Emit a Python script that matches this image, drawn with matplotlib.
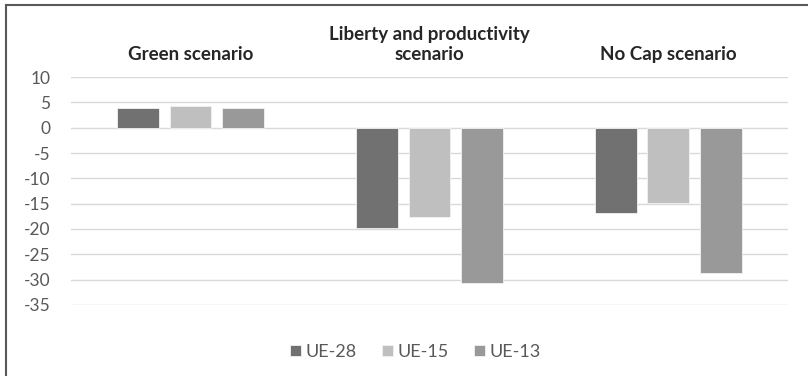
import numpy as np
import matplotlib.pyplot as plt
from matplotlib.lines import Line2D

# Dados por cenário
cenarios = ['Green scenario', 'Liberty and productivity\nscenario', 'No Cap scenario']
ue28 = [3.9, -19.8, -16.8]
ue15 = [4.2, -17.6, -14.8]
ue13 = [3.9, -30.6, -28.7]
series = ['UE-28', 'UE-15', 'UE-13']
cores = ['#717171', '#bfbfbf', '#999999']

plt.rcParams['font.family'] = ['Lato', 'DejaVu Sans']
plt.rcParams['axes.unicode_minus'] = False

fig = plt.figure(figsize=(8.08, 3.76), dpi=100)
ax = fig.add_axes([0.088, 0.189, 0.887, 0.606])

x = np.arange(len(cenarios))
largura = 0.175
desloc = 0.22
for i, (valores, nome, cor) in enumerate(zip([ue28, ue15, ue13], series, cores)):
    ax.bar(x + (i - 1) * desloc, valores, largura, color=cor, label=nome,
           edgecolor='#f2f2f2', linewidth=0.6, zorder=3)

ax.set_xlim(-0.5, 2.5)
ax.set_ylim(-35, 10)
ax.set_yticks(range(-35, 11, 5))
ax.grid(axis='y', color='#d9d9d9', linewidth=1, zorder=0)
for s in ax.spines.values():
    s.set_visible(False)

# Rótulos das categorias em cima
ax.xaxis.tick_top()
ax.set_xticks(x)
ax.set_xticklabels(cenarios, fontsize=13.5, fontweight='bold', color='#262626',
                   linespacing=1.25)
ax.tick_params(axis='x', length=0, pad=10)
ax.tick_params(axis='y', length=0, pad=15, labelsize=12.5, labelcolor='#595959')

fig.legend(loc='lower center', bbox_to_anchor=(0.514, 0.0), ncol=3, frameon=False,
           fontsize=13, labelcolor='#595959', handlelength=0.6, handleheight=0.6,
           handletextpad=0.25, columnspacing=1.4)

# Moldura (só esquerda e topo ficam visíveis)
fig.add_artist(Line2D([0.0075, 0.0075], [0, 0.987], transform=fig.transFigure,
                      color='#595959', linewidth=1.5))
fig.add_artist(Line2D([0.0075, 1], [0.987, 0.987], transform=fig.transFigure,
                      color='#595959', linewidth=1.5))

fig.savefig('out.png', dpi=100)
